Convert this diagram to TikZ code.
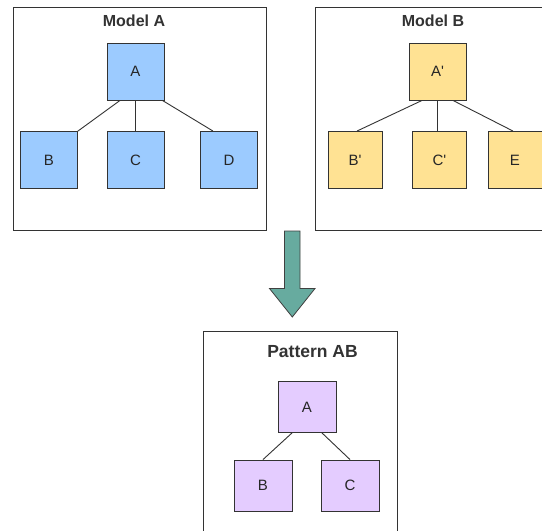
\documentclass[tikz,border=0pt]{standalone}
\usepackage{fontspec}
\setmainfont{Liberation Sans}
\newcommand{\prm}{\textquotesingle}
\begin{document}
\begin{tikzpicture}[x=1pt,y=-1pt,
  frame/.style={draw=black!80,line width=0.9pt,fill=white},
  title/.style={font=\fontsize{16}{19}\selectfont\bfseries,text=black!80},
  boxbase/.style={draw=black!80,line width=0.9pt,minimum width=57pt,minimum height=57pt,inner sep=0pt,
    font=\fontsize{15}{17}\selectfont,text=black!85},
  bluebox/.style={boxbase,fill=blueF},
  yellowbox/.style={boxbase,fill=yellowF},
  purplebox/.style={boxbase,fill=purpleF,minimum width=58pt,minimum height=51pt},
  link/.style={draw=black!80,line width=0.9pt},
  bigarrow/.style={draw=black!75,line width=0.8pt,fill=tealF}]
\definecolor{blueF}{HTML}{9CCBFF}
\definecolor{yellowF}{HTML}{FFE293}
\definecolor{purpleF}{HTML}{E4CCFF}
\definecolor{tealF}{HTML}{67AB9F}
\useasboundingbox (0,0) rectangle (542,531);
\clip (0,0) rectangle (542,531);

% Model A
\draw[frame] (13,7) rectangle (266,230);
\node[title] (tA) at (134,20.5) {Model A};
\node[bluebox] (a1) at (135.5,71.5) {A};
\node[bluebox] (b1) at (49,160) {B};
\node[bluebox] (c1) at (135.5,160) {C};
\node[bluebox] (d1) at (229,160) {D};
\draw[link] ([xshift=-15.5pt]a1.south) -- (b1.north east);
\draw[link] (a1.south) -- (c1.north);
\draw[link] ([xshift=-2pt]a1.south east) -- ([xshift=-16pt]d1.north);

% Model B
\draw[frame] (315,7) rectangle (575,230);
\node[title] (tB) at (433,20.5) {Model B};
\node[yellowbox] (a2) at (437.5,71.5) {A\prm};
\node[yellowbox,minimum width=54pt] (b2) at (355,160) {B\prm};
\node[yellowbox,minimum width=54pt] (c2) at (439.5,160) {C\prm};
\node[yellowbox,minimum width=54pt] (e2) at (515,160) {E};
\draw[link] ([xshift=-15.5pt]a2.south) -- ([xshift=2pt]b2.north);
\draw[link] (a2.south) -- (a2.south |- c2.north);
\draw[link] ([xshift=15.5pt]a2.south) -- ([xshift=-2pt]e2.north);

% transformation arrow
\draw[bigarrow] (284.5,231) -- (300,231) -- (300,288.5) -- (315,288.5) -- (292.3,317)
  -- (269.5,288.5) -- (284.5,288.5) -- cycle;

% Pattern AB
\draw[frame] (203,331) rectangle (397,570);
\node[title,font=\fontsize{17.5}{20}\selectfont\bfseries] (tP) at (312.5,352) {Pattern AB};
\node[purplebox] (a3) at (307,407) {A};
\node[purplebox] (b3) at (263,485.5) {B};
\node[purplebox] (c3) at (350,485.5) {C};
\draw[link] ([xshift=-15pt]a3.south) -- (b3.north);
\draw[link] ([xshift=15pt]a3.south) -- (c3.north);
\end{tikzpicture}
\end{document}
